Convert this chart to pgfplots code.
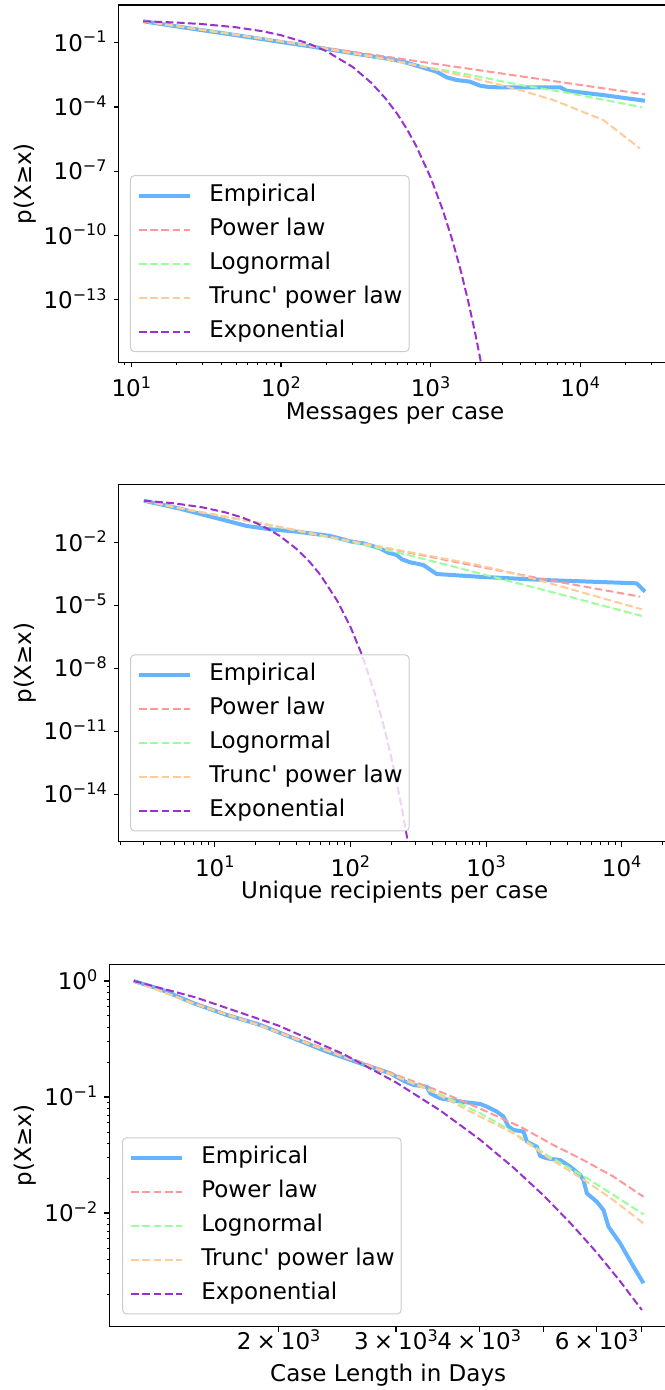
\documentclass[border=0pt]{standalone}
\usepackage{fontspec}
\setmainfont{DejaVu Sans}
\usepackage{pgfplots}
\pgfplotsset{compat=1.18}

\definecolor{cEmp}{HTML}{66B3FF}
\definecolor{cPow}{HTML}{FF9999}
\definecolor{cLog}{HTML}{99FF99}
\definecolor{cTru}{HTML}{FFCC99}
\definecolor{cExp}{HTML}{9932CC}
\definecolor{cLeg}{HTML}{CCCCCC}

% superscript in the text font, as matplotlib's mathtext does it
\newcommand{\sups}[1]{\raisebox{0.36em}{\fontsize{8}{8}\selectfont #1}}
\newcommand{\pw}[1]{10\sups{#1}}
\newcommand{\tms}{\hspace{0.22em}×\hspace{0.22em}}

\pgfplotsset{
  every axis/.append style={
    scale only axis,
    font=\fontsize{11.5}{13.8}\selectfont,
    axis line style={line width=0.55pt},
    tick align=outside, tick pos=left,
    major tick length=2.5pt, minor tick length=1.4pt,
    tick style={black, line width=0.55pt},
    minor tick style={black, line width=0.42pt},
    yticklabel style={anchor=base east, yshift=-4.2pt},
    xticklabel style={anchor=base, yshift=-14.7pt},
    ylabel={p(X≥x)},
    legend cell align=left,
  },
  every axis legend/.append style={draw=cLeg, line width=0.5pt, rounded corners=2pt,
      fill=white, fill opacity=0.8, draw opacity=1, text opacity=1,
      anchor=north west,
      inner xsep=3.3pt, inner ysep=4pt, row sep=5pt, column sep=8.6pt,
      nodes={inner xsep=0pt, inner ysep=0pt, text height=9pt, text depth=3pt}},
  legend image code/.code={\draw[#1] (0pt,0pt) -- (25.5pt,0pt);},
  emp/.style={cEmp, line width=2pt, line join=round},
  fitline/.style={line width=1pt, dash pattern=on 3.9pt off 1.7pt},
}

\begin{document}
\begin{tikzpicture}

% ---------- messages per case ----------
\begin{axis}[
  xmode=log, ymode=log,
  at={(59.3pt,-181.15pt)}, anchor=south west,
  width=276.45pt, height=178.65pt,
  xmin=8.22, xmax=40740, ymin=1.23e-16, ymax=5.74,
  xtick={10,100,1000,10000},
  xticklabels={\pw{1},\pw{2},\pw{3},\pw{4}},
  minor xtick={9,20,30,40,50,60,70,80,90,200,300,400,500,600,700,800,900,2000,3000,4000,5000,6000,7000,8000,9000,20000,30000,40000},
  ytick={1e-1,1e-4,1e-7,1e-10,1e-13},
  yticklabels={\pw{−1},\pw{−4},\pw{−7},\pw{−10},\pw{−13}},
  yminorticks=false,
  xlabel={Messages per case},
  xlabel style={at={(axis description cs:0.5,-0.1427)}, anchor=center},
  ylabel style={at={(axis description cs:-0.1693,0.5)}, anchor=center},
  legend style={at={(0.0206,0.524)}},
]
\addplot[emp] table {
12 1.0
20 0.58
30 0.38
50 0.225
100 0.108
165 0.064
250 0.040
394 0.0239
500 0.0185
657 0.0130
850 0.0076
1099 0.00443
1281 0.00242
1493 0.00182
1832 0.00152
2138 0.00099
2500 0.00084
3061 0.00083
7328 0.00083
8122 0.000575
14260 0.00036
27100 0.000196
};
\addlegendentry{Empirical}
\addplot[fitline, cPow] table {
12 1
100 0.116
1000 0.0111
10000 0.00107
27100 0.00039
};
\addlegendentry{Power law}
\addplot[fitline, cLog] table {
12 1
30 0.394
60 0.195
100 0.115
165 0.0661
300 0.0324
500 0.0170
657 0.01175
1000 0.00676
1832 0.00316
3963 0.00107
8550 0.000437
14260 0.000219
25760 0.0000977
};
\addlegendentry{Lognormal}
\addplot[fitline, cTru] table {
12 1
30 0.394
60 0.195
100 0.115
165 0.0661
300 0.0331
500 0.0174
657 0.0120
1000 0.00631
1832 0.00242
3963 0.000621
6607 0.000212
11040 0.0000506
14260 0.0000247
25060 0.00000117
};
\addlegendentry{Trunc\textquotesingle\ power law}
\addplot[fitline, cExp] table {
12 1
20 0.873
30 0.736
50 0.525
75 0.344
100 0.224
150 0.0962
200 0.0411
300 0.0076
400 0.00138
500 2.5e-4
600 4.7e-5
700 8.5e-6
800 1.55e-6
1000 5.2e-8
1200 1.74e-9
1400 5.9e-11
1600 2.0e-12
1800 6.6e-14
2000 2.24e-15
2200 7.6e-17
};
\addlegendentry{Exponential}
\end{axis}

% ---------- unique recipients per case ----------
\begin{axis}[
  xmode=log, ymode=log,
  at={(59.4pt,-420.85pt)}, anchor=south west,
  width=275.9pt, height=178.7pt,
  xmin=1.96, xmax=22950, ymin=5.5e-17, ymax=6.05,
  xtick={10,100,1000,10000},
  xticklabels={\pw{1},\pw{2},\pw{3},\pw{4}},
  minor xtick={2,3,4,5,6,7,8,9,20,30,40,50,60,70,80,90,200,300,400,500,600,700,800,900,2000,3000,4000,5000,6000,7000,8000,9000,20000},
  ytick={1e-2,1e-5,1e-8,1e-11,1e-14},
  yticklabels={\pw{−2},\pw{−5},\pw{−8},\pw{−11},\pw{−14}},
  yminorticks=false,
  xlabel={Unique recipients per case},
  xlabel style={at={(axis description cs:0.5,-0.1399)}, anchor=center},
  ylabel style={at={(axis description cs:-0.1693,0.5)}, anchor=center},
  legend style={at={(0.0203,0.524)}},
]
\addplot[emp] table {
3 1
5.5 0.42
10 0.155
17.2 0.0625
25.5 0.0436
40.2 0.0335
70.8 0.0209
102 0.0112
124.5 0.0093
165 0.0054
190 0.0033
219 0.00259
240 0.0016
275 0.00116
345 0.00086
432 0.00032
853 0.00024
2647 0.000166
12900 0.000115
14860 0.000046
};
\addlegendentry{Empirical}
\addplot[fitline, cPow] table {
3 1
5.5 0.437
10 0.214
22 0.0822
100 0.0120
291 0.00302
853 0.000759
2647 0.000182
13700 0.0000266
};
\addlegendentry{Power law}
\addplot[fitline, cLog] table {
3 1
5.5 0.437
10 0.214
22 0.0813
100 0.0112
291 0.00224
853 0.000372
2647 0.0000562
14060 0.00000319
};
\addlegendentry{Lognormal}
\addplot[fitline, cTru] table {
3 1
5.5 0.437
10 0.214
22 0.0822
100 0.0120
291 0.00324
853 0.000891
1503 0.000380
2647 0.000141
4667 0.0000501
14060 0.00000665
};
\addlegendentry{Trunc\textquotesingle\ power law}
\addplot[fitline, cExp] table {
3 1
5 0.752
8 0.490
12 0.277
16 0.156
20 0.0883
25 0.0433
30 0.0212
40 0.00508
50 0.00122
60 2.92e-4
80 1.68e-5
100 9.7e-7
120 5.57e-8
150 7.7e-10
180 1.06e-11
210 1.47e-13
240 2.02e-15
270 2.79e-17
290 1.6e-18
};
\addlegendentry{Exponential}
\end{axis}

% ---------- case length in days ----------
\begin{axis}[
  xmode=log, ymode=log,
  at={(54.65pt,-663.35pt)}, anchor=south west,
  width=278.85pt, height=181.2pt,
  xmin=1114, xmax=7656, ymin=1.047e-3, ymax=1.392,
  xtick={2000,3000,4000,5000,6000,7000},
  xticklabels={2\tms\pw{3},3\tms\pw{3},4\tms\pw{3},,6\tms\pw{3},},
  xticklabel style={yshift=5.8pt},
  xminorticks=false,
  ytick={1,0.1,0.01},
  yticklabels={\pw{0},\pw{−1},\pw{−2}},
  minor ytick={0.002,0.003,0.004,0.005,0.006,0.007,0.008,0.009,0.02,0.03,0.04,0.05,0.06,0.07,0.08,0.09,0.2,0.3,0.4,0.5,0.6,0.7,0.8,0.9},
  xlabel={Case Length in Days},
  xlabel style={at={(axis description cs:0.5,-0.1333)}, anchor=center},
  ylabel style={at={(axis description cs:-0.1506,0.5)}, anchor=center},
  legend style={at={(0.0228,0.5226)}},
]
\addplot[emp] table {
1212 1
1329 0.848
1491 0.643
1673 0.509
1877 0.418
2106 0.321
2363 0.246
2652 0.195
2941 0.160
3098 0.1355
3189 0.1268
3339 0.1227
3378 0.1075
3497 0.0974
3746 0.0912
4014 0.0871
4108 0.0826
4252 0.0748
4351 0.0677
4427 0.0555
4504 0.0520
4662 0.0503
4716 0.0412
4882 0.0373
4939 0.0310
5054 0.0296
5291 0.0286
5477 0.0251
5670 0.0213
5736 0.0192
5802 0.0148
6006 0.0125
6146 0.0106
6253 0.00762
6511 0.00548
6818 0.00345
7058 0.00248
};
\addlegendentry{Empirical}
\addplot[fitline, cPow] table {
1212 1
1491 0.646
1877 0.417
2363 0.257
2941 0.162
3417 0.1175
4014 0.0794
4609 0.0555
5171 0.0385
5670 0.0296
6362 0.0206
7058 0.0138
};
\addlegendentry{Power law}
\addplot[fitline, cLog] table {
1212 1
1491 0.638
1877 0.412
2363 0.251
2941 0.158
3417 0.112
4014 0.0724
4402 0.0537
5054 0.0316
5802 0.0200
6362 0.0143
7058 0.00975
};
\addlegendentry{Lognormal}
\addplot[fitline, cTru] table {
1212 1
1491 0.638
1877 0.412
2363 0.251
2941 0.158
3417 0.1096
4014 0.0676
4504 0.0486
5054 0.0306
5802 0.0186
6362 0.0129
7058 0.00815
};
\addlegendentry{Trunc\textquotesingle\ power law}
\addplot[fitline, cExp] table {
1212 1
1500 0.723
2000 0.412
2500 0.235
3000 0.1337
3500 0.0762
4000 0.0434
4500 0.0247
5000 0.0141
5500 0.00803
6000 0.00458
6500 0.00261
7018 0.00146
};
\addlegendentry{Exponential}
\end{axis}

\pgfresetboundingbox
\path[use as bounding box] (0pt,0pt) rectangle (332pt,-695pt);
\end{tikzpicture}
\end{document}
